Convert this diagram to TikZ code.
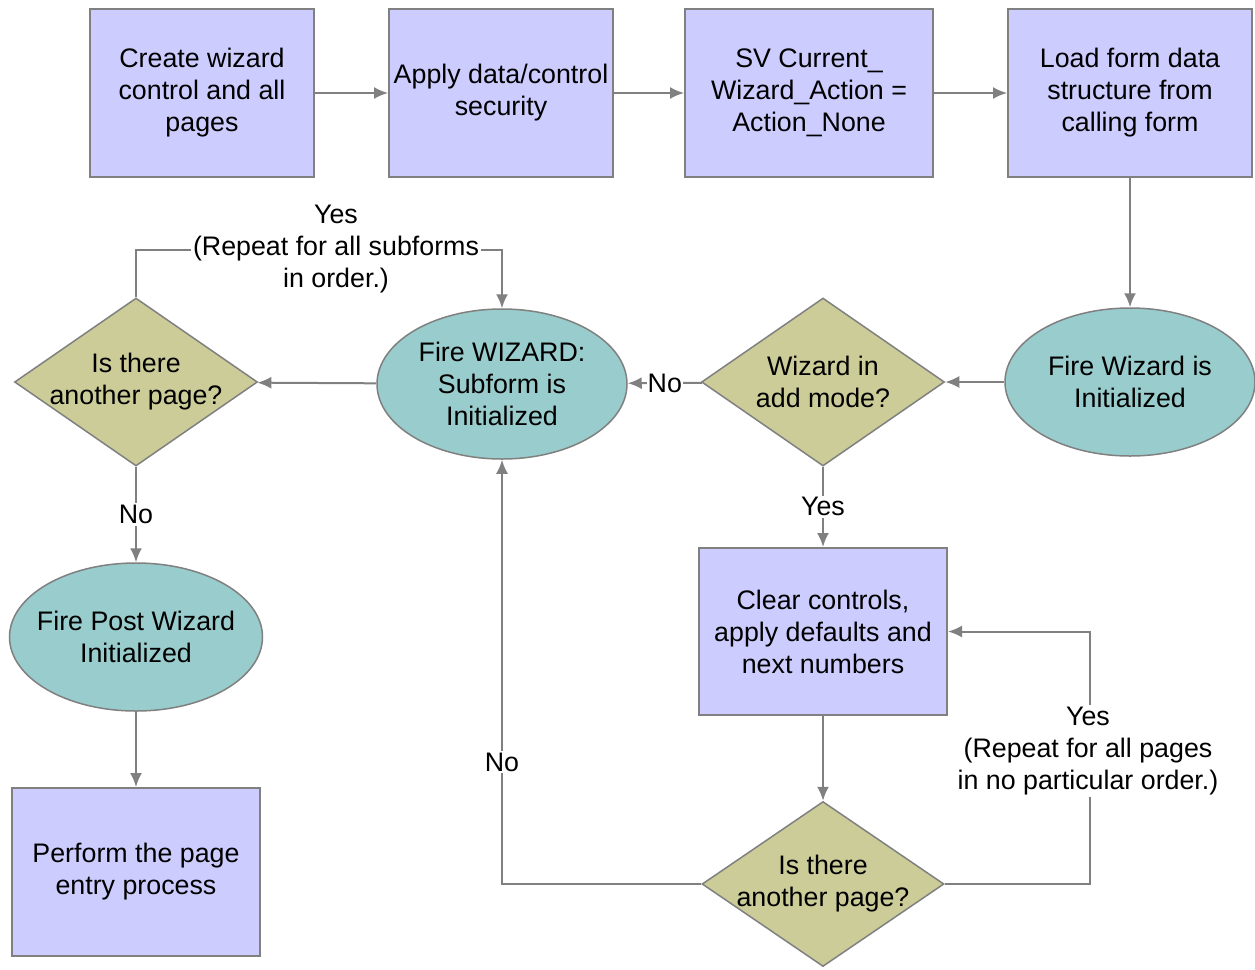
\documentclass[tikz,border=0pt]{standalone}
\usepackage{fontspec}
\setmainfont{Liberation Sans}
\usetikzlibrary{shapes.geometric,arrows.meta}
\definecolor{boxfill}{HTML}{CCCCFF}
\definecolor{ellfill}{HTML}{99CCCC}
\definecolor{diafill}{HTML}{CCCC99}
\definecolor{linegray}{HTML}{808080}
\begin{document}
\begin{tikzpicture}[x=1pt,y=-1pt,
  every node/.style={font=\fontsize{26.8}{32}\selectfont, align=center},
  procbox/.style={draw=linegray, line width=2pt, fill=boxfill, rectangle, inner sep=0pt, minimum width=224pt, minimum height=168pt},
  ell/.style={draw=linegray, line width=1.5pt, fill=ellfill, ellipse, inner sep=0pt, minimum width=250pt, minimum height=148pt},
  dia/.style={draw=linegray, line width=1.5pt, fill=diafill, diamond, inner sep=0pt, minimum width=243pt, minimum height=168pt},
  conn/.style={draw=linegray, line width=2pt, -{Latex[length=14pt,width=12pt]}},
  lbl/.style={fill=white, inner sep=2pt}]
\useasboundingbox (0,0) rectangle (1255,969);
% nodes
\node[procbox] (b1) at (202,93) {Create wizard\\control and all\\pages};
\node[procbox] (b2) at (501,93) {Apply data/control\\security};
\node[procbox, minimum width=248pt] (b3) at (809,93) {SV Current\_\\Wizard\_Action =\\Action\_None};
\node[procbox, minimum width=244pt] (b4) at (1130,93) {Load form data\\structure from\\calling form};
\node[ell] (e1) at (1130,382) {Fire Wizard is\\Initialized};
\node[dia] (d1) at (823,382) {};
\node at (d1) {Wizard in\\add mode?};
\node[ell, minimum height=150pt] (e2) at (502,384) {Fire WIZARD:\\Subform is\\Initialized};
\node[dia] (d2) at (136,382) {};
\node at (d2) {Is there\\another page?};
\node[ell, minimum width=253pt, inner xsep=-15pt] (e3) at (136,637) {Fire Post Wizard\\Initialized};
\node[procbox, minimum width=248pt] (b6) at (136,872) {Perform the page\\entry process};
\node[procbox, minimum width=248pt, minimum height=167pt] (b5) at (823,631.5) {Clear controls,\\apply defaults and\\next numbers};
\node[dia, minimum width=242pt, minimum height=165pt] (d3) at (823,884) {};
\node at (d3) {Is there\\another page?};
% connectors
\draw[conn] (b1) -- (b2);
\draw[conn] (b2) -- (b3);
\draw[conn] (b3) -- (b4);
\draw[conn] (b4) -- (e1);
\draw[conn] (e1) -- (d1);
\draw[conn] (d1) -- node[lbl, inner sep=1pt] {No} (e2);
\draw[conn] (e2) -- (d2);
\draw[conn] (d2.north) -- ++(0,-47) -| (e2.north);
\node[lbl] (l1) at (336,249) {Yes\\(Repeat for all subforms\\in order.)};
\draw[conn] (d2.south) -- node[lbl] {No} (e3.north);
\draw[conn] (e3) -- (b6);
\draw[conn] (d1.south) -- node[lbl] {Yes} (b5.north);
\draw[conn] (b5) -- (d3);
\draw[conn] (d3.east) -- ++(145,0) |- (b5.east);
\node[lbl] (l2) at (1088,751) {Yes\\(Repeat for all pages\\in no particular order.)};
\draw[conn] (d3.west) -| (e2.south);
\node[lbl] (l3) at (502,762) {No};
\end{tikzpicture}
\end{document}
